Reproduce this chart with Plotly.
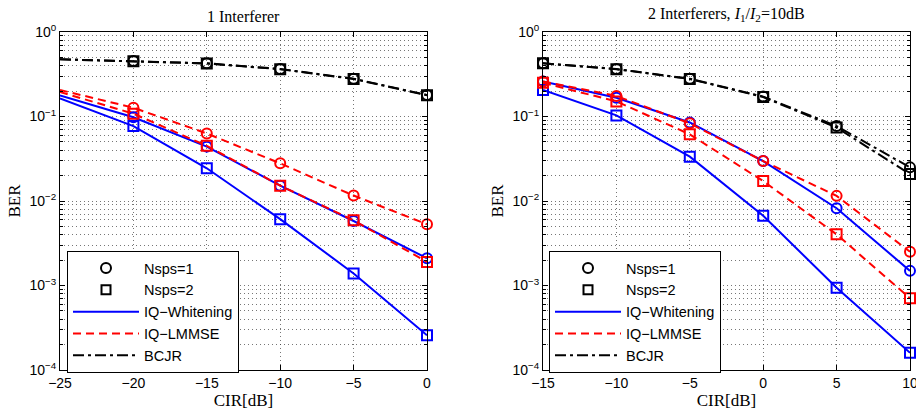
import plotly.graph_objects as go

# ---------------- data ----------------
cir_left = [-25, -20, -15, -10, -5, 0]
left_bcjr_n1 = [0.475, 0.454, 0.426, 0.365, 0.280, 0.180]
left_bcjr_n2 = [0.475, 0.452, 0.424, 0.363, 0.278, 0.178]
left_lmmse_n1 = [0.206, 0.127, 0.063, 0.0279, 0.0116, 0.0053]
left_lmmse_n2 = [0.195, 0.108, 0.045, 0.0152, 0.0059, 0.0019]
left_wh_n1 = [0.178, 0.098, 0.044, 0.0152, 0.0058, 0.0021]
left_wh_n2 = [0.164, 0.077, 0.0244, 0.0061, 0.00139, 0.000257]

cir_right = [-15, -10, -5, 0, 5, 10]
right_bcjr_n1 = [0.426, 0.365, 0.280, 0.172, 0.077, 0.0250]
right_bcjr_n2 = [0.426, 0.363, 0.278, 0.170, 0.074, 0.0208]
right_lmmse_n1 = [0.260, 0.175, 0.083, 0.0297, 0.0115, 0.00251]
right_lmmse_n2 = [0.250, 0.151, 0.0615, 0.0172, 0.00403, 0.000705]
right_wh_n1 = [0.260, 0.167, 0.085, 0.0297, 0.0082, 0.00149]
right_wh_n2 = [0.206, 0.103, 0.0335, 0.0067, 0.00094, 0.00016]

y_tickvals = [1e-4, 1e-3, 1e-2, 1e-1, 1]
y_ticktext = ["10<sup>−4</sup>", "10<sup>−3</sup>", "10<sup>−2</sup>", "10<sup>−1</sup>", "10<sup>0</sup>"]
x_left_ticks = [-25, -20, -15, -10, -5, 0]
x_left_text = ["−25", "−20", "−15", "−10", "−5", "0"]
x_right_ticks = [-15, -10, -5, 0, 5, 10]
x_right_text = ["−15", "−10", "−5", "0", "5", "10"]

BLUE = "rgb(0,0,255)"
RED = "rgb(255,0,0)"
BLACK = "rgb(0,0,0)"
DASH = "8px,5px"
DASHDOT = "11px,4px,3px,4px"

fig = go.Figure()


def add_series(x, y, color, dash, symbol, xa, ya, skip_first_marker):
    fig.add_trace(go.Scatter(x=x, y=y, mode="lines", xaxis=xa, yaxis=ya,
                             line=dict(color=color, width=2, dash=dash),
                             showlegend=False, hoverinfo="skip"))
    xm = x[1:] if skip_first_marker else x
    ym = y[1:] if skip_first_marker else y
    fig.add_trace(go.Scatter(x=xm, y=ym, mode="markers", xaxis=xa, yaxis=ya,
                             marker=dict(symbol=symbol, size=10, color=color,
                                         line=dict(color=color, width=2)),
                             showlegend=False, cliponaxis=False))


# left panel
add_series(cir_left, left_bcjr_n1, BLACK, DASHDOT, "circle-open", "x", "y", True)
add_series(cir_left, left_bcjr_n2, BLACK, DASHDOT, "square-open", "x", "y", True)
add_series(cir_left, left_lmmse_n1, RED, DASH, "circle-open", "x", "y", True)
add_series(cir_left, left_wh_n1, BLUE, "solid", "circle-open", "x", "y", True)
add_series(cir_left, left_wh_n2, BLUE, "solid", "square-open", "x", "y", True)
add_series(cir_left, left_lmmse_n2, RED, DASH, "square-open", "x", "y", True)

# right panel
add_series(cir_right, right_bcjr_n1, BLACK, DASHDOT, "circle-open", "x2", "y2", False)
add_series(cir_right, right_bcjr_n2, BLACK, DASHDOT, "square-open", "x2", "y2", False)
add_series(cir_right, right_wh_n1, BLUE, "solid", "circle-open", "x2", "y2", False)
add_series(cir_right, right_wh_n2, BLUE, "solid", "square-open", "x2", "y2", False)
add_series(cir_right, right_lmmse_n1, RED, DASH, "circle-open", "x2", "y2", False)
add_series(cir_right, right_lmmse_n2, RED, DASH, "square-open", "x2", "y2", False)

# legend entries
for leg, xa, ya in [("legend", "x", "y"), ("legend2", "x2", "y2")]:
    fig.add_trace(go.Scatter(x=[None], y=[None], mode="markers", name="Nsps=1", legend=leg,
                             xaxis=xa, yaxis=ya,
                             marker=dict(symbol="circle-open", size=10, color=BLACK, line=dict(width=2))))
    fig.add_trace(go.Scatter(x=[None], y=[None], mode="markers", name="Nsps=2", legend=leg,
                             xaxis=xa, yaxis=ya,
                             marker=dict(symbol="square-open", size=9, color=BLACK, line=dict(width=2))))
    fig.add_trace(go.Scatter(x=[None], y=[None], mode="lines", name="IQ−Whitening", legend=leg,
                             xaxis=xa, yaxis=ya, line=dict(color=BLUE, width=2)))
    fig.add_trace(go.Scatter(x=[None], y=[None], mode="lines", name="IQ−LMMSE", legend=leg,
                             xaxis=xa, yaxis=ya, line=dict(color=RED, width=2, dash=DASH)))
    fig.add_trace(go.Scatter(x=[None], y=[None], mode="lines", name="BCJR", legend=leg,
                             xaxis=xa, yaxis=ya, line=dict(color=BLACK, width=2, dash=DASHDOT)))

W, H = 916, 413
L1, R1 = 60, 427
L2, R2 = 543, 910
T, B = 32, 370

serif = "Liberation Serif, Times New Roman, serif"
sans = "Liberation Sans, Arial, Helvetica, sans-serif"
GRID = "rgba(60,60,60,0.7)"
GDASH = "1px,3px"

common_x = dict(showline=True, linecolor="black", linewidth=1, mirror="ticks", ticks="inside",
                ticklen=5, tickcolor="black", showgrid=True, gridcolor=GRID,
                griddash=GDASH, gridwidth=1, zeroline=False, automargin=False,
                ticklabeloverflow="allow",
                tickfont=dict(family=sans, size=14, color="black"),
                title=dict(text="CIR[dB]", font=dict(family=serif, size=17, color="black"), standoff=2))
common_y = dict(type="log", showline=True, linecolor="black", linewidth=1, mirror="ticks",
                ticks="inside", ticklen=5, tickcolor="black", showgrid=True,
                gridcolor=GRID, griddash=GDASH, gridwidth=1, zeroline=False, automargin=False,
                range=[-4, 0], tickvals=y_tickvals, ticktext=y_ticktext,
                tickfont=dict(family=sans, size=14, color="black"),
                minor=dict(ticks="inside", ticklen=3, tickcolor="black", showgrid=True,
                           gridcolor=GRID, griddash=GDASH, gridwidth=1,
                           tickvals=[m * 10 ** e for e in range(-4, 0) for m in range(2, 10)]),
                title=dict(text="BER", font=dict(family=serif, size=17, color="black"), standoff=4))

LEG_TOP = 251

fig.update_layout(
    width=W, height=H,
    margin=dict(l=0, r=0, t=0, b=0),
    paper_bgcolor="white", plot_bgcolor="white",
    showlegend=True,
    xaxis=dict(domain=[L1 / W, R1 / W], range=[-25, 0], tickvals=x_left_ticks, ticktext=x_left_text,
               anchor="y", **common_x),
    yaxis=dict(domain=[1 - B / H, 1 - T / H], anchor="x", **common_y),
    xaxis2=dict(domain=[L2 / W, R2 / W], range=[-15, 10], tickvals=x_right_ticks, ticktext=x_right_text,
                anchor="y2", **common_x),
    yaxis2=dict(domain=[1 - B / H, 1 - T / H], anchor="x2", **common_y),
    legend=dict(x=67 / W, y=1 - LEG_TOP / H, xanchor="left", yanchor="top", bgcolor="white",
                bordercolor="black", borderwidth=1, font=dict(family=sans, size=14.5, color="black"),
                itemwidth=66, tracegroupgap=0),
    legend2=dict(x=549 / W, y=1 - LEG_TOP / H, xanchor="left", yanchor="top", bgcolor="white",
                 bordercolor="black", borderwidth=1, font=dict(family=sans, size=14.5, color="black"),
                 itemwidth=66, tracegroupgap=0),
    annotations=[
        dict(text="1 Interferer", x=(L1 + R1) / 2 / W, y=1 - 17 / H, xref="paper", yref="paper",
             xanchor="center", yanchor="middle",
             showarrow=False, font=dict(family=serif, size=16, color="black")),
        dict(text="2 Interferers, <i>I</i><sub>1</sub>/<i>I</i><sub>2</sub>=10dB",
             x=(L2 + R2) / 2 / W, y=1 - 14 / H, xref="paper", yref="paper",
             xanchor="center", yanchor="middle",
             showarrow=False, font=dict(family=serif, size=16, color="black")),
    ],
)

fig.write_html("out.html")
